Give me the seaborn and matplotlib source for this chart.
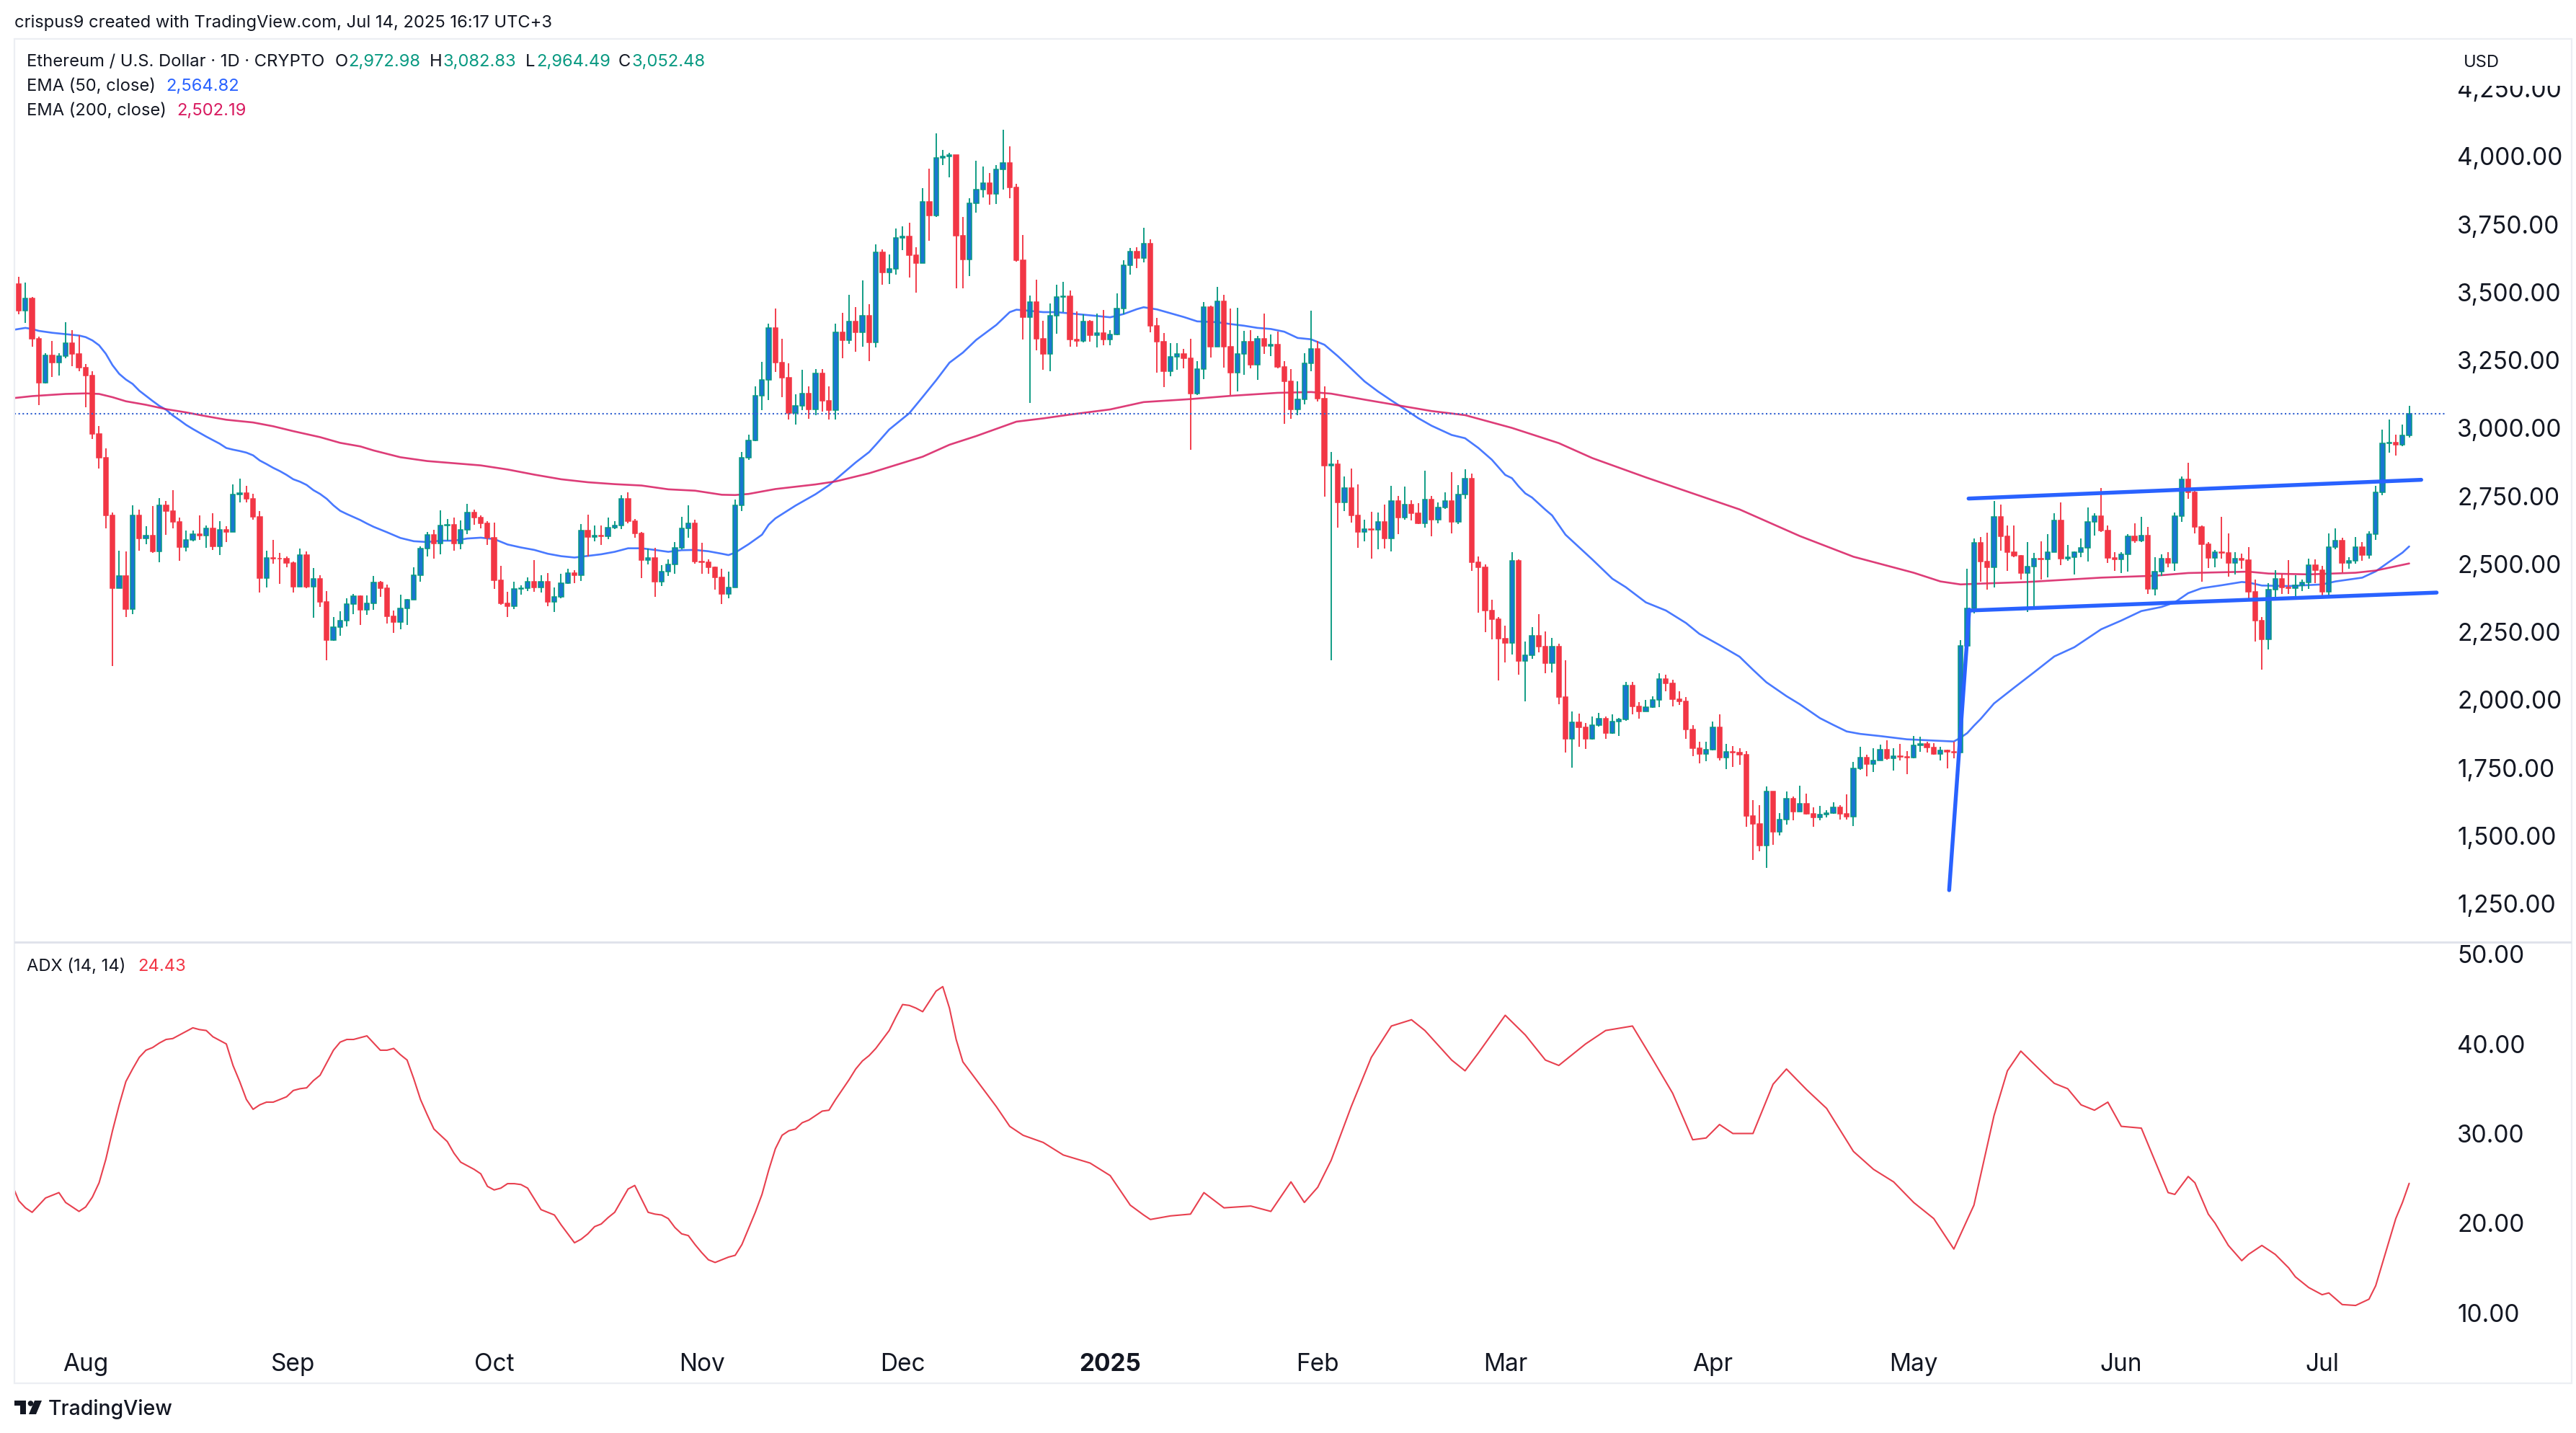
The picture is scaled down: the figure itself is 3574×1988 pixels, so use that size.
import numpy as np
import pandas as pd
import matplotlib
matplotlib.use('Agg')
import matplotlib.pyplot as plt
from matplotlib.patches import Rectangle, Polygon, Circle
from matplotlib.transforms import Affine2D
import seaborn as sns

# daily candles, open of a day = close of the day before
first_open = 2 * 1765
closes = [
    3432,3477,3328,3167,3268,3242,3265,3312,3272,3223,
    3193,2980,2892,2679,2411,2455,2333,2679,2593,2605,
    2546,2716,2696,2656,2563,2588,2609,2606,2631,2565,
    2625,2618,2756,2761,2741,2673,2449,2523,2521,2519,
    2505,2417,2533,2417,2445,2361,2219,2267,2291,2352,
    2382,2332,2355,2433,2412,2308,2287,2336,2369,2459,
    2556,2608,2575,2642,2645,2575,2626,2689,2670,2651,
    2596,2440,2356,2344,2408,2410,2434,2415,2434,2361,
    2378,2431,2468,2459,2623,2599,2606,2601,2635,2643,
    2741,2657,2612,2515,2522,2434,2473,2498,2559,2631,
    2651,2510,2507,2487,2450,2391,2415,2716,2891,2956,
    3120,3179,3368,3241,3185,3057,3083,3127,3069,3202,
    3101,3066,3352,3323,3392,3354,3413,3315,3647,3573,
    3585,3699,3706,3636,3608,3834,3783,3996,3999,4005,
    3708,3620,3827,3878,3901,3862,3952,3977,3885,3617,
    3408,3464,3329,3272,3413,3483,3485,3325,3322,3392,
    3343,3351,3325,3346,3441,3599,3650,3626,3680,3376,
    3318,3209,3262,3274,3258,3128,3217,3445,3299,3467,
    3299,3203,3273,3318,3234,3330,3302,3309,3225,3172,
    3070,3105,3240,3293,3110,2862,2868,2728,2781,2679,
    2617,2628,2625,2654,2595,2732,2670,2719,2686,2651,
    2738,2663,2707,2732,2656,2756,2814,2507,2487,2328,
    2298,2225,2210,2512,2142,2164,2236,2197,2134,2197,
    2011,1857,1918,1900,1857,1906,1931,1877,1921,1928,
    2052,1977,1958,1973,2000,2077,2060,2003,1994,1890,
    1821,1801,1816,1900,1788,1809,1806,1799,1573,1545,
    1464,1662,1515,1560,1636,1590,1617,1581,1568,1578,
    1583,1606,1580,1571,1748,1789,1764,1778,1816,1784,
    1794,1790,1788,1832,1839,1825,1801,1814,1810,1806,
    2200,2338,2579,2508,2488,2674,2603,2543,2530,2468,
    2492,2521,2517,2545,2660,2520,2524,2545,2559,2654,
    2676,2623,2522,2517,2536,2603,2587,2605,2409,2473,
    2519,2504,2676,2812,2764,2637,2574,2522,2544,2540,
    2505,2519,2514,2398,2292,2223,2405,2445,2413,2410,
    2421,2432,2496,2478,2398,2562,2585,2503,2513,2562,
    2534,2611,2764,2945,2948,2938,2972.98,3052.48,
]
highs = [
    3556,3535,3482,3337,3277,3321,3277,3390,3361,3341,
    3235,3209,3007,2926,2690,2549,2546,2716,2701,2639,
    2714,2742,2733,2772,2670,2623,2623,2679,2642,2688,
    2658,2639,2794,2814,2788,2758,2695,2549,2589,2540,
    2528,2509,2558,2546,2486,2459,2400,2305,2326,2374,
    2391,2385,2385,2456,2437,2424,2329,2387,2371,2489,
    2564,2617,2626,2698,2666,2670,2661,2722,2700,2679,
    2657,2652,2493,2398,2435,2422,2451,2515,2459,2466,
    2414,2463,2484,2477,2648,2682,2642,2642,2670,2657,
    2754,2763,2666,2618,2557,2559,2496,2517,2580,2673,
    2716,2663,2578,2516,2491,2482,2473,2738,2912,2977,
    3153,3243,3385,3439,3329,3239,3125,3215,3155,3218,
    3218,3155,3385,3424,3492,3445,3543,3457,3676,3659,
    3639,3734,3743,3755,3667,3883,3955,4084,4024,4013,
    4004,3778,3845,3983,3962,3938,3968,4099,4036,3898,
    3712,3487,3546,3394,3458,3527,3539,3506,3431,3418,
    3399,3422,3436,3360,3495,3619,3662,3665,3737,3694,
    3407,3349,3314,3312,3291,3330,3248,3465,3451,3519,
    3490,3439,3442,3358,3361,3339,3421,3344,3355,3246,
    3217,3172,3277,3432,3321,3155,2912,2884,2821,2851,
    2794,2663,2693,2689,2719,2788,2751,2784,2735,2723,
    2844,2751,2728,2763,2837,2791,2848,2833,2528,2498,
    2370,2305,2273,2544,2516,2214,2268,2316,2251,2228,
    2207,2146,1957,1950,1916,1938,1953,1938,1948,1933,
    2065,2065,1991,1999,2014,2099,2094,2073,2032,2011,
    1908,1845,1847,1921,1946,1839,1830,1821,1811,1632,
    1613,1683,1662,1583,1662,1644,1685,1654,1606,1611,
    1593,1624,1613,1652,1771,1827,1798,1822,1835,1852,
    1822,1839,1811,1867,1865,1845,1842,1827,1818,1845,
    2221,2482,2593,2599,2616,2733,2718,2641,2641,2534,
    2580,2542,2583,2611,2687,2727,2570,2547,2593,2708,
    2686,2781,2643,2545,2543,2611,2649,2674,2637,2525,
    2537,2543,2689,2821,2873,2777,2643,2580,2553,2674,
    2612,2543,2539,2562,2442,2306,2430,2478,2465,2514,
    2459,2444,2520,2516,2493,2612,2631,2597,2524,2599,
    2582,2620,2789,2994,3032,2976,3013,3082.83,
]
lows = [
    3418,3388,3300,3084,3165,3188,3193,3256,3228,3209,
    3076,2961,2851,2630,2124,2411,2305,2316,2549,2574,
    2540,2507,2608,2630,2512,2546,2583,2589,2561,2552,
    2533,2580,2617,2728,2728,2663,2394,2414,2502,2428,
    2487,2396,2417,2412,2302,2342,2146,2217,2237,2270,
    2316,2275,2312,2332,2380,2282,2248,2259,2275,2369,
    2434,2527,2521,2536,2586,2549,2555,2610,2645,2631,
    2570,2409,2349,2305,2335,2386,2401,2398,2396,2344,
    2324,2375,2428,2429,2438,2529,2584,2570,2592,2628,
    2629,2649,2598,2447,2499,2378,2420,2456,2465,2555,
    2596,2501,2463,2465,2406,2354,2375,2415,2696,2884,
    2952,3066,3103,3208,3115,3032,3013,3067,3035,3047,
    3062,3032,3032,3258,3311,3280,3299,3247,3297,3529,
    3531,3565,3655,3555,3499,3608,3690,3778,3969,3923,
    3515,3515,3560,3794,3850,3822,3825,3878,3847,3614,
    3327,3094,3287,3216,3210,3348,3427,3299,3301,3315,
    3317,3297,3306,3304,3343,3418,3566,3590,3609,3354,
    3205,3152,3191,3216,3219,2921,3121,3181,3260,3299,
    3223,3123,3135,3197,3219,3179,3272,3265,3221,3017,
    3035,3048,3088,3209,3098,2749,2147,2633,2696,2653,
    2561,2583,2521,2555,2558,2546,2611,2663,2660,2648,
    2635,2603,2651,2704,2614,2648,2741,2475,2321,2249,
    2224,2072,2138,2168,2092,1994,2151,2174,2099,2101,
    1984,1806,1751,1827,1819,1854,1901,1857,1875,1867,
    1923,1946,1930,1958,1971,1974,2032,1977,1982,1857,
    1794,1766,1774,1814,1778,1745,1754,1761,1534,1410,
    1443,1382,1468,1500,1542,1558,1590,1578,1534,1558,
    1568,1580,1561,1561,1537,1742,1720,1735,1776,1781,
    1740,1778,1728,1784,1809,1806,1799,1778,1748,1784,
    1806,2180,2317,2436,2405,2413,2548,2476,2526,2444,
    2324,2346,2442,2450,2543,2496,2513,2462,2524,2508,
    2605,2617,2505,2476,2468,2473,2577,2582,2390,2384,
    2457,2488,2476,2654,2741,2614,2436,2485,2488,2520,
    2453,2462,2482,2363,2214,2112,2185,2375,2390,2390,
    2381,2401,2409,2430,2382,2373,2554,2470,2484,2501,
    2511,2519,2588,2752,2910,2899,2934,2964.49,
]

# EMA 50, read at the day number in ema50_days
ema50_days = [-1,1,2,3,5,7,9,10,11,12,13,14,15,16,17,18,19,20,21,22,23,24,25,26,27,28,29,30,31,32,33,34,35,36,37,38,39,40,41,42,43,44,45,46,47,48,49,50,51,52,53,
              55,57,59,61,63,65,67,69,71,73,75,77,79,81,83,85,87,89,91,93,95,97,99,101,103,105,106,107,109,111,112,113,
              116,119,121,123,125,127,128,130,133,135,137,139,141,143,146,148,149,150,153,155,158,161,163,165,167,
              168,170,172,174,176,179,181,183,185,187,189,191,193,195,197,199,201,203,205,207,209,211,214,216,218,220,222,223,224,225,
              226,228,229,231,235,238,240,243,246,249,251,254,257,259,261,264,266,269,271,273,275,278,282,289,
              290,291,292,293,295,298,301,304,307,311,314,317,320,322,324,326,329,332,333,335,339,344,346,350,352,354,356,357]
ema50_vals = [3361,3369,3365,3358,3351,3346,3341,3335,3323,3305,3274,3232,3200,3179,3163,3138,3119,3100,3082,3068,3047,3030,3012,2997,2983,2969,2956,2943,2927,2921,2916,2910,2900,2881,2868,2854,2842,2828,2812,2803,2791,2772,2758,2740,2716,2696,2684,2673,2662,2649,2637,
              2617,2596,2584,2581,2586,2586,2594,2597,2592,2572,2561,2552,2538,2529,2524,2530,2536,2545,2558,2558,2552,2545,2551,2552,2547,2538,2533,2542,2573,2608,2645,2668,
              2715,2757,2790,2832,2874,2912,2939,2995,3055,3115,3176,3241,3278,3325,3380,3427,3436,3434,3427,3427,3420,3413,3408,3420,3438,
              3445,3437,3423,3409,3393,3390,3383,3377,3369,3365,3355,3332,3327,3307,3265,3219,3172,3135,3102,3070,3037,3009,2975,2963,2927,2884,2828,2816,2786,2760,
              2745,2700,2679,2608,2517,2446,2415,2359,2329,2283,2243,2202,2159,2111,2065,2014,1984,1933,1908,1884,1875,1867,1855,1847,
              1861,1878,1905,1930,1987,2045,2102,2160,2194,2260,2292,2327,2342,2359,2393,2411,2422,2434,2432,2421,2419,2425,2436,2450,2473,2508,2542,2564.82]

# EMA 200, read the same way
ema200_days = [-1,2,7,10,12,14,16,19,22,25,28,31,35,38,41,45,48,51,53,57,61,65,69,73,77,81,85,89,93,97,101,105,107,109,113,
               119,122,127,135,139,143,149,153,157,163,168,175,181,188,193,196,201,206,211,216,223,230,235,243,250,257,266,274,283,287,290,
               293,300,311,319,324,333,336,342,349,352,357]
ema200_vals = [3110,3118,3126,3128,3126,3114,3099,3086,3070,3058,3044,3031,3021,3007,2989,2967,2946,2933,2918,2893,2879,2871,2863,2848,2829,2812,2801,2794,2789,2775,2770,2755,2754,2758,2776,
               2793,2804,2834,2895,2939,2971,3024,3036,3050,3069,3096,3107,3119,3130,3133,3127,3105,3084,3063,3048,3001,2945,2890,2819,2760,2701,2603,2527,2468,2436,2425,
               2428,2434,2450,2457,2467,2472,2465,2462,2468,2476,2502.19]

# ADX (14, 14) pane
adx_days = list(range(-1, 128)) + [128,129,130,131,132,133,134,135,137,138,139,140,141,144,146,148,150,153,156,160,163,166,168,169,172,175,177,180,184,187,190,192,194,196,199,202,205,208,210,214,216,218,222,225,228,230,234,237,241,244,247,250,252,254,256,259,262,264,267,270,274,277,280,283,286,289,
    292,295,297,299,302,304,306,308,310,312,314,317,319,321,322,324,325,327,328,330,332,333,335,337,339,340,342,344,345,347,349,351,352,353,354,355,356,357]
adx_vals = [24.3,22.5,21.7,21.2,22,22.8,23.1,23.4,22.3,21.8,21.3,21.8,22.9,24.5,27.1,30.3,33.2,35.8,37.2,38.5,39.3,39.6,40.1,40.5,40.6,41,41.4,41.8,41.6,41.5,40.8,40.4,40,37.6,35.8,33.8,32.7,33.2,33.5,33.5,33.8,34.1,34.8,35,35.1,35.9,36.5,37.9,39.3,40.2,40.5,40.5,40.7,40.9,40.1,39.3,39.3,39.5,38.8,38.2,36.1,33.8,32.1,30.5,29.8,29.1,27.8,26.8,26.4,26,25.5,24.1,23.7,23.9,24.4,24.4,24.3,23.9,22.7,21.5,21.2,20.9,19.8,18.8,17.8,18.2,18.8,19.6,19.9,20.6,21.2,22.5,23.8,24.2,22.7,21.2,21,20.9,20.5,19.5,18.8,18.6,17.6,16.7,15.9,15.6,15.9,16.2,16.4,17.6,19.4,21.2,23.2,25.9,28.3,29.8,30.3,30.5,31.2,31.5,32,32.5,32.6,33.8,34.9,36,37.2,38.1,38.7,
    39.5,40.5,41.5,43,44.4,44.3,44,43.6,45.9,46.4,44,40.5,38,35,33,30.8,29.8,29,27.6,26.7,25.3,22,20.9,20.4,20.8,21,23.4,21.7,21.9,21.3,24.6,22.3,24,27,33,38.5,42,42.7,41.5,38.2,37,39,43.2,41,38.2,37.6,40,41.5,42,38.3,34.5,29.3,29.5,31,30,30,35.5,37.2,34.9,32.8,28,26,24.6,22.3,20.5,17.1,
    22,32,37,39.2,37,35.6,35,33.2,32.6,33.5,30.8,30.6,27,23.4,23.2,25.2,24.5,21,20,17.5,15.8,16.5,17.5,16.5,15,14,12.8,12,12.2,10.9,10.8,11.5,13,15.5,18,20.5,22.3,24.43]

# drawn trend lines: pole, channel top, channel bottom
pole_days = [288.3, 291.3]
pole_prices = [1300, 2332]
top_days = [291.2, 358.8]
top_prices = [2741, 2810]
bottom_days = [291.3, 361.1]
bottom_prices = [2329, 2395]

price_ticks = [1250,1500,1750,2000,2250,2500,2750,3000,3250,3500,3750,4000,4250]
adx_ticks = [10,20,30,40,50]
month_days = [10,41,71,102,132,163,194,222,253,283,314,344]
month_labels = ['Aug','Sep','Oct','Nov','Dec','2025','Feb','Mar','Apr','May','Jun','Jul']
last_close = closes[-1]

W, H = 3574, 1988
UP_FILL, UP_LINE, DOWN = '#1976d2', '#089981', '#f23645'
BLUE, PINK = '#2962ff', '#d81b60'
INK = '#131722'
BORDER = '#eceef3'

sns.set_theme(style='white')
plt.rcParams['font.family'] = ['Inter', 'DejaVu Sans']

df = pd.DataFrame({'day': np.arange(len(closes)), 'close': closes, 'high': highs, 'low': lows})
df['open'] = df['close'].shift(1).fillna(first_open)
rising = df['close'] >= df['open']

fig = plt.figure(figsize=(W / 100, H / 100), dpi=100, facecolor='white')
PX = Affine2D().scale(1 / W, -1 / H).translate(0, 1) + fig.transFigure


def pane(left, top, right, bottom):
    return fig.add_axes([left / W, 1 - bottom / H, (right - left) / W, (bottom - top) / H])


ax = pane(20, 54, 3394, 1307)
ax2 = pane(20, 1307, 3394, 1860)
day_px = 9.29
xlim = ((20 - 26) / day_px, (3394 - 26) / day_px)

# candles
ax.vlines(df['day'][rising], df['low'][rising], df['high'][rising], color=UP_LINE, lw=1.35, zorder=3)
ax.vlines(df['day'][~rising], df['low'][~rising], df['high'][~rising], color=DOWN, lw=1.35, zorder=3)
ax.bar(df['day'][rising], (df['close'] - df['open'])[rising], bottom=df['open'][rising], width=0.68,
       color=UP_FILL, edgecolor=UP_LINE, linewidth=1.1, zorder=4)
ax.bar(df['day'][~rising], (df['close'] - df['open'])[~rising], bottom=df['open'][~rising], width=0.68,
       color=DOWN, edgecolor=DOWN, linewidth=1.1, zorder=4)

sns.lineplot(x=ema50_days, y=ema50_vals, ax=ax, color=BLUE, linewidth=1.9, alpha=0.85, estimator=None, sort=False, zorder=2)
sns.lineplot(x=ema200_days, y=ema200_vals, ax=ax, color=PINK, linewidth=1.9, alpha=0.85, estimator=None, sort=False, zorder=2)
ax.axhline(last_close, color='#2f5fd0', lw=1.5, ls=(0, (1, 1.7)), zorder=5)

for xs, ys in [(pole_days, pole_prices), (top_days, top_prices), (bottom_days, bottom_prices)]:
    sns.lineplot(x=xs, y=ys, ax=ax, color=BLUE, linewidth=3.9, estimator=None, sort=False, zorder=6)

usd_px = 0.377
ax.set_xlim(xlim)
ax.set_ylim(3000 - (1307 - 594) / usd_px, 3000 + (594 - 54) / usd_px)
ax.yaxis.tick_right()
ax.set_yticks(price_ticks, [f'{v:,.2f}' for v in price_ticks])
ax.set_xticks([])
ax.tick_params(axis='y', length=0, pad=11, labelsize=24, labelcolor=INK)
ax.set_xlabel('')
ax.set_ylabel('')

# ADX pane
sns.lineplot(x=adx_days, y=adx_vals, ax=ax2, color='#e8404f', linewidth=1.5, estimator=None, sort=False)
adx_px = 12.425
ax2.set_xlim(xlim)
ax2.set_ylim(10 - (1860 - 1821) / adx_px, 50 + (1324 - 1307) / adx_px)
ax2.yaxis.tick_right()
ax2.set_yticks(adx_ticks, [f'{v:.2f}' for v in adx_ticks])
ax2.set_xticks(month_days, month_labels)
ax2.tick_params(axis='y', length=0, pad=11, labelsize=24, labelcolor=INK)
ax2.tick_params(axis='x', length=0, pad=12, labelsize=24, labelcolor=INK)
for lab in ax2.get_xticklabels():
    if lab.get_text() == '2025':
        lab.set_fontweight('bold')
ax2.set_xlabel('')
ax2.set_ylabel('')

for a in (ax, ax2):
    for s in a.spines.values():
        s.set_visible(False)
    a.patch.set_alpha(0)

# frame and pane separator, on the figure so they run under the price scale too
fig.add_artist(Rectangle((20, 54), 3548, 1865, transform=PX, fill=False, ec=BORDER, lw=1.6))
fig.add_artist(Rectangle((20, 1305.5), 3548, 3, transform=PX, fc='#e0e3eb', ec='none'))
# the scale label box hides the top of the 4,250 label
fig.add_artist(Rectangle((3396, 56), 170, 63, transform=PX, fc='white', ec='none', zorder=8))


def label(x, y, s, color=INK, size=17.1, **kw):
    fig.text(x, y, s, transform=PX, color=color, fontsize=size, va='center', ha='left', zorder=9, **kw)


label(20, 32, 'crispus9 created with TradingView.com, Jul 14, 2025 16:17 UTC+3')
label(3418, 87, 'USD')
label(37, 86, 'Ethereum / U.S. Dollar · 1D · CRYPTO')
for x, s, c in [(465, 'O', INK), (483, '2,972.98', UP_LINE), (596, 'H', INK), (615, '3,082.83', UP_LINE),
                (729, 'L', INK), (744, '2,964.49', UP_LINE), (858, 'C', INK), (877, '3,052.48', UP_LINE)]:
    label(x, 86, s, color=c)
label(37, 120, 'EMA (50, close)')
label(230, 120, '2,564.82', color=BLUE)
label(37, 154, 'EMA (200, close)')
label(245, 154, '2,502.19', color=PINK)
label(37, 1341, 'ADX (14, 14)')
label(191, 1341, '24.43', color=DOWN)

# TradingView mark and name in the footer
fig.add_artist(Polygon([(20, 1943), (36, 1943), (36, 1962), (28, 1962), (28, 1950), (20, 1950)], transform=PX, fc=INK, ec='none'))
fig.add_artist(Circle((42.5, 1947), 3.8, transform=PX, fc=INK, ec='none'))
fig.add_artist(Polygon([(48, 1943), (58, 1943), (50, 1962), (40, 1962)], transform=PX, fc=INK, ec='none'))
label(67, 1955, 'TradingView', size=20.5, fontweight='medium')

fig.savefig('out.png', dpi=100, facecolor='white')
